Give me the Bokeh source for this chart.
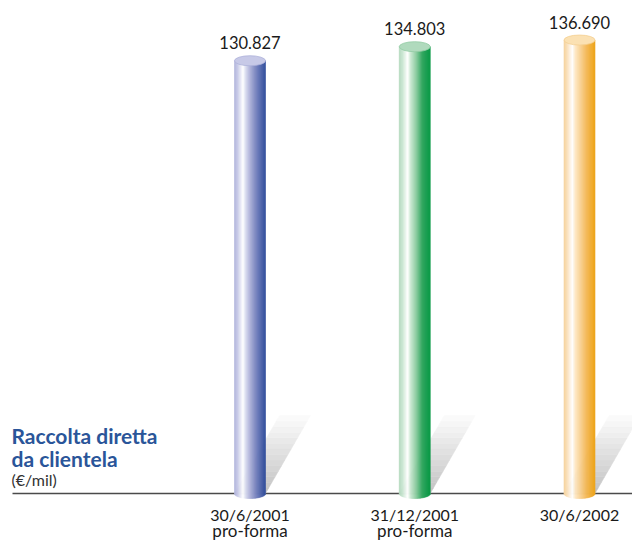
import numpy as np
from bokeh.plotting import figure
from bokeh.models import Range1d
from bokeh.core.properties import value
from bokeh.embed import file_html
from bokeh.resources import INLINE

# ---------------- data ----------------
categories = ["30/6/2001", "31/12/2001", "30/6/2002"]
subtitles = ["pro-forma", "pro-forma", ""]
values = [130.827, 134.803, 136.690]
value_labels = ["130.827", "134.803", "136.690"]
title_lines = ["Raccolta diretta", "da clientela"]
unit_label = "(€/mil)"

# ---------------- styles ----------------
bar_stops = [
    [(0.0, "#aeb1da"), (0.12, "#c9cbe8"), (0.28, "#ffffff"), (0.38, "#d6d8ee"),
     (0.55, "#a4a9d4"), (0.75, "#6a78b8"), (1.0, "#2c4a9a")],
    [(0.0, "#b2d9bd"), (0.12, "#cbe6d3"), (0.28, "#ffffff"), (0.38, "#c8e6d0"),
     (0.55, "#8ccca0"), (0.75, "#34a862"), (1.0, "#00963f")],
    [(0.0, "#f6d29c"), (0.12, "#fbe3bf"), (0.28, "#ffffff"), (0.38, "#fde6c2"),
     (0.55, "#f8cf8e"), (0.75, "#f3b650"), (1.0, "#eea51c")],
]
top_colors = ["#c7c9e7", "#b0dabd", "#fbe1b3"]
top_edges = ["#aeb2da", "#93cba4", "#f4cf92"]
title_color = "#2a5599"
FONT = "Lato"

W, H = 632, 542
KX = 164.75          # px per category step
X_CENTER0 = 249.5    # px of first bar centre
KY = 3.53            # px per value unit
VTOP = 147.894       # value at top edge
BASE_PX = 493
BAR_W_PX = 31
ELL_H_PX = 10


def px2x(px):
    return (px - X_CENTER0) / KX


def px2y(py):
    return VTOP - py / KY


BASE = px2y(BASE_PX)
bw = BAR_W_PX / KX
eh = ELL_H_PX / KY


def hex2rgb(h):
    h = h.lstrip("#")
    return np.array([int(h[i:i + 2], 16) for i in (0, 2, 4)], dtype=float)


def interp(stops, u):
    for (u0, c0), (u1, c1) in zip(stops[:-1], stops[1:]):
        if u0 <= u <= u1:
            t = (u - u0) / (u1 - u0) if u1 > u0 else 0
            c = hex2rgb(c0) * (1 - t) + hex2rgb(c1) * t
            return "#%02x%02x%02x" % tuple(int(round(v)) for v in c)
    return stops[-1][1]


p = figure(width=W, height=H, x_range=Range1d(px2x(0), px2x(W)),
           y_range=Range1d(px2y(H), px2y(0)), x_axis_type=None, y_axis_type=None,
           output_backend="svg", toolbar_location=None, min_border=0)
p.grid.visible = False
p.outline_line_color = None
p.background_fill_color = "white"
p.border_fill_color = "white"

xs = list(range(len(categories)))

# baseline
p.segment(x0=[px2x(12)], y0=[BASE], x1=[px2x(W)], y1=[BASE],
          line_color="#4a4a4a", line_width=1.5)

# shadows
dx = 45 / KX
dy = 78 / KY
K = 14
sh_xs, sh_ys, sh_col = [], [], []
for i, v in enumerate(values):
    xl, xr = xs[i] - bw / 2, xs[i] + bw / 2
    for k in range(K):
        t0, t1 = k / K, (k + 1) / K
        sh_xs.append([xl + t0 * dx, xr + t0 * dx, xr + t1 * dx, xl + t1 * dx])
        sh_ys.append([BASE + t0 * dy, BASE + t0 * dy, BASE + t1 * dy, BASE + t1 * dy])
        g = int(round(196 + (250 - 196) * (k / (K - 1))))
        sh_col.append("#%02x%02x%02x" % (g, g, g))
p.patches(xs=sh_xs, ys=sh_ys, fill_color=sh_col, line_color=sh_col, line_width=0.5)

# cylinder bodies (vertical stripes)
N = 30
L, R, T, B, C = [], [], [], [], []
for i, v in enumerate(values):
    for j in range(N):
        u = (j + 0.5) / N
        left = xs[i] - bw / 2 + j * bw / N
        L.append(left)
        R.append(left + bw / N)
        T.append(v)
        B.append(BASE - (eh / 2) * np.sqrt(max(0.0, 1 - (2 * u - 1) ** 2)))
        C.append(interp(bar_stops[i], u))
p.quad(left=L, right=R, top=T, bottom=B, fill_color=C, line_color=C, line_width=0.6)

# cylinder tops
p.ellipse(x=xs, y=values, width=bw, height=eh, fill_color=top_colors,
          line_color=top_edges, line_width=0.8)

# value labels
p.text(x=xs, y=values, text=value_labels, text_align="center",
       text_baseline="middle", y_offset=-18, text_font=value(FONT),
       text_font_size="16.5px", text_color="#1a1a1a")

# category labels
p.text(x=xs, y=[px2y(514)] * 3, text=categories, text_align="center",
       text_baseline="middle", text_font=value(FONT), text_font_size="16px",
       text_color="#1a1a1a")
p.text(x=xs, y=[px2y(530)] * 3, text=subtitles, text_align="center",
       text_baseline="middle", text_font=value(FONT), text_font_size="17px",
       text_color="#1a1a1a")

# title
p.text(x=[px2x(11)] * 2, y=[px2y(435), px2y(458)], text=title_lines,
       text_align="left", text_baseline="middle", text_font=value(FONT),
       text_font_size="21px", text_font_style="bold", text_color=title_color)
p.text(x=[px2x(11)], y=[px2y(479)], text=[unit_label], text_align="left",
       text_baseline="middle", text_font=value(FONT), text_font_size="16px",
       text_color="#333333")

open("out.html", "w").write(file_html(p, INLINE))
